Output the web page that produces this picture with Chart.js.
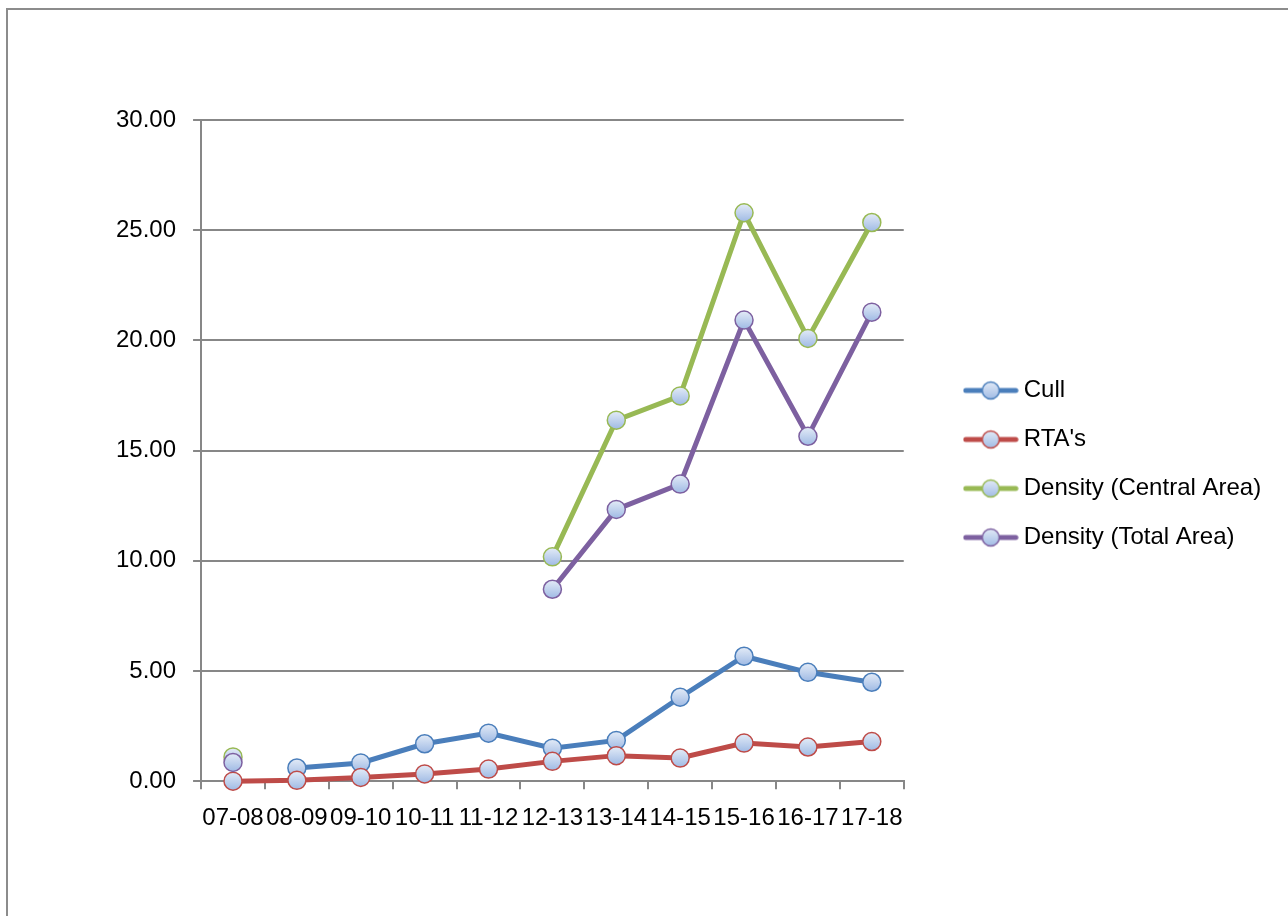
<!DOCTYPE html>
<html>
<head>
<meta charset="utf-8">
<script src="https://cdn.jsdelivr.net/npm/chart.js@4.4.1/dist/chart.umd.min.js"></script>
<style>
  html, body { margin: 0; padding: 0; background: #fff; }
  #frame {
    position: absolute; left: 6px; top: 8px; right: 0; bottom: 0;
    border-left: 2px solid #8c8c8c; border-top: 2px solid #8c8c8c;
  }
  #wrap { position: absolute; left: 0; top: 0; width: 1288px; height: 916px; }
</style>
</head>
<body>
<div id="frame"></div>
<div id="wrap"><canvas id="chart" width="1288" height="916"></canvas></div>
<script>
// categories (seasons)
const seasons = ['07-08', '08-09', '09-10', '10-11', '11-12', '12-13', '13-14', '14-15', '15-16', '16-17', '17-18'];

// series values
const cull = [null, 0.60, 0.83, 1.70, 2.18, 1.50, 1.85, 3.81, 5.67, 4.94, 4.49];
const rtas = [0.00, 0.04, 0.17, 0.33, 0.55, 0.90, 1.16, 1.05, 1.73, 1.55, 1.80];
const densityCentral = [1.10, null, null, null, null, 10.18, 16.38, 17.48, 25.79, 20.09, 25.35];
const densityTotal = [0.85, null, null, null, null, 8.71, 12.33, 13.48, 20.92, 15.65, 21.28];

// y axis ticks
const yMin = 0;
const yMax = 30;
const yStep = 5;

const FONT = "'Liberation Sans', Arial, sans-serif";
const GRID = '#878787';
const MARKER_R = 9;

// marker fill: light blue gradient like the Excel bubbles
function markerFill(context) {
    const chart = context.chart;
    const v = context.raw;
    const ys = chart.scales && chart.scales.y;
    if (v === null || v === undefined || !ys) return '#b9cdec';
    const py = ys.getPixelForValue(v);
    if (!isFinite(py)) return '#b9cdec';
    const g = chart.ctx.createLinearGradient(0, py - MARKER_R, 0, py + MARKER_R);
    g.addColorStop(0, '#e3ebf7');
    g.addColorStop(1, '#9fbae4');
    return g;
}

// legend icon: line with a marker in the middle
function legendIcon(color) {
    const c = document.createElement('canvas');
    c.width = 56;
    c.height = 22;
    const x = c.getContext('2d');
    x.strokeStyle = color;
    x.lineWidth = 5;
    x.lineCap = 'round';
    x.beginPath();
    x.moveTo(3, 11);
    x.lineTo(53, 11);
    x.stroke();
    const g = x.createLinearGradient(0, 2, 0, 20);
    g.addColorStop(0, '#e3ebf7');
    g.addColorStop(1, '#9fbae4');
    x.fillStyle = g;
    x.lineWidth = 1.5;
    x.beginPath();
    x.arc(28, 11, 8.5, 0, Math.PI * 2);
    x.fill();
    x.stroke();
    return c;
}

function series(label, data, color, order) {
    return {
        label: label,
        data: data,
        order: order,
        clip: false,
        borderColor: color,
        backgroundColor: color,
        borderWidth: 5,
        pointRadius: MARKER_R,
        pointHoverRadius: MARKER_R,
        pointBorderWidth: 1.5,
        pointBorderColor: color,
        pointBackgroundColor: markerFill,
        pointStyle: 'circle',
        tension: 0,
        spanGaps: false
    };
}

const colors = ['#4a7ebb', '#be4b48', '#98b954', '#7d60a0'];

// shifts the legend sideways / up after layout (and widens its clip box)
const legendShift = {
    id: 'legendShift',
    afterLayout(chart) {
        const lg = chart.legend;
        const dx = 41, dy = -20;
        lg.left += dx; lg.right += dx + 120;
        lg.top += dy; lg.bottom += dy;
    }
};

new Chart(document.getElementById('chart'), {
    type: 'line',
    data: {
        labels: seasons,
        datasets: [
            // later series sit on top, as in the original
            series('Cull', cull, colors[0], 4),
            series("RTA's", rtas, colors[1], 3),
            series('Density (Central Area)', densityCentral, colors[2], 2),
            series('Density (Total Area)', densityTotal, colors[3], 1)
        ]
    },
    options: {
        responsive: false,
        animation: false,
        devicePixelRatio: 1,
        layout: {
            padding: { left: 99, right: 116, top: 120, bottom: 68 }
        },
        scales: {
            x: {
                offset: true,
                grid: {
                    offset: true,
                    drawOnChartArea: false,
                    drawTicks: true,
                    tickLength: 8,
                    color: GRID,
                    lineWidth: 2
                },
                border: { color: GRID, width: 2 },
                ticks: {
                    autoSkip: false,
                    maxRotation: 0,
                    minRotation: 0,
                    padding: 15,
                    color: '#000',
                    font: { family: FONT, size: 24 }
                }
            },
            y: {
                min: yMin,
                max: yMax,
                grid: {
                    color: GRID,
                    lineWidth: 2,
                    drawTicks: true,
                    tickLength: 8
                },
                border: { color: GRID, width: 2 },
                ticks: {
                    stepSize: yStep,
                    padding: 17,
                    color: '#000',
                    font: { family: FONT, size: 24 },
                    callback: v => v.toFixed(2)
                }
            }
        },
        plugins: {
            legend: {
                position: 'right',
                labels: {
                    usePointStyle: true,
                    pointStyleWidth: 42,
                    padding: 25,
                    color: '#000',
                    font: { family: FONT, size: 24 },
                    generateLabels(chart) {
                        return chart.data.datasets.map((ds, i) => ({
                            text: ds.label,
                            pointStyle: legendIcon(ds.borderColor),
                            fillStyle: ds.borderColor,
                            strokeStyle: ds.borderColor,
                            lineWidth: 0,
                            hidden: false,
                            datasetIndex: i,
                            fontColor: '#000'
                        }));
                    }
                }
            },
            tooltip: { enabled: false }
        }
    },
    plugins: [legendShift]
});
</script>
</body>
</html>
